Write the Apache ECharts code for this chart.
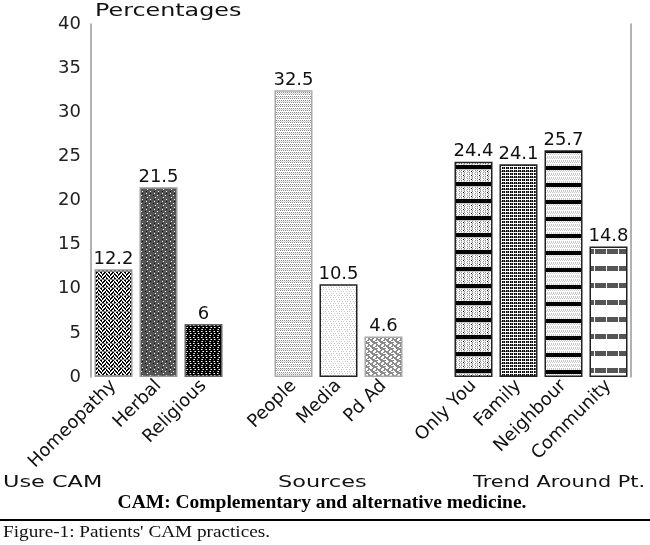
<!DOCTYPE html>
<html>
<head>
<meta charset="utf-8">
<script src="https://cdn.jsdelivr.net/npm/echarts@6/dist/echarts.min.js"></script>
<style>
    html, body { margin: 0; padding: 0; background: #fff; }
    #cam_echart { width: 650px; height: 545px; }
</style>
</head>
<body>
<div id="cam_echart"></div>
<script>
// data
var useCam = ['Homeopathy', 'Herbal', 'Religious'];
var useCamValues = [12.2, 21.5, 6];
var sources = ['People', 'Media', 'Pd Ad'];
var sourcesValues = [32.5, 10.5, 4.6];
var trend = ['Only You', 'Family', 'Neighbour', 'Community'];
var trendValues = [24.4, 24.1, 25.7, 14.8];
var groupNames = ['Use CAM', 'Sources', 'Trend Around Pt.'];
var yMin = 0, yMax = 40, yStep = 5;

// small pixel tiles used as bar fills
var pal = { '.': '#ffffff', '#': '#000000', 'g': '#8c8c8c', 'd': '#555555', 'l': '#c8c8c8' };
function tile(rows) {
    var c = document.createElement('canvas');
    c.width = rows[0].length;
    c.height = rows.length;
    var ctx = c.getContext('2d');
    for (var y = 0; y < rows.length; y++) {
        for (var x = 0; x < rows[y].length; x++) {
            ctx.fillStyle = pal[rows[y][x]];
            ctx.fillRect(x, y, 1, 1);
        }
    }
    return { image: c, repeat: 'repeat' };
}
function striped(top, band, n) {
    var rows = [];
    for (var i = 0; i < n; i++) rows.push(top[i % top.length]);
    return rows.concat(band);
}

var fills = [
    tile(['##..##..', '#.#..#.#', '..##..##', '.#.##.#.', '##..##..', '#.#..#.#', '..##..##', 'gggggggg']),
    tile(['dddddddd', 'dd.ddd#d', 'dddddddd', 'd#ddd.dd', 'dddddddd', 'ddd.dddd', 'dddddddd', 'dd#ddd.d']),
    tile(['########', '#.g##g.#', '########', '##g.##.g', '########', '#g.##g##']),
    tile(['g.g.g.g.', '.l.l.l.l', 'g.g.g.g.', '........', '.g.g.g.g', 'l.l.l.l.', '.g.g.g.g', '........']),
    tile(['........', '.l.l..l.', '........', '..l..l.l', '........', 'l..l.l..']),
    tile(['gg..gggg', 'g....ggg', 'gg..gg..', 'ggggg...', 'g.ggg..g', '...gggg.']),
    tile(striped(['g..g.g..', '.l..l..#', 'g..g.g..', 'l.l..l.l'], ['########', '########', '########', '########', 'llllllll'], 12)),
    tile(['#.#d#.#d', '........', '#.#d#.#d', '#g#d#g#d', '........', '#.#d#.#d']),
    tile(striped(['.l.l.l.l', 'l.l.l.l.', '........', '.l.l.l.l'], ['########', '########', '########', '########'], 13)),
    tile(striped(['............'], ['dddddd.ddddd', 'dddddd.ddddd', 'dddddd.ddddd', 'dddddd.ddddd', 'dddddd.ddddd', '............'], 11))
];
var borders = ['#999', '#999', '#666', '#aaa', '#222', '#aaa', '#222', '#222', '#222', '#222'];

var categories = useCam.concat([''], sources, [''], trend);
var values = useCamValues.concat(['-'], sourcesValues, ['-'], trendValues);

var seriesData = [];
var k = 0;
for (var i = 0; i < values.length; i++) {
    if (values[i] === '-') {
        seriesData.push('-');
        continue;
    }
    seriesData.push({
        value: values[i],
        itemStyle: { color: fills[k], borderColor: borders[k], borderWidth: 1.5 }
    });
    k++;
}

function stretchedText(txt, x, y, font, sx) {
    return {
        type: 'text', x: x, y: y, scaleX: sx,
        style: { text: txt, x: 0, y: 0, fill: '#111', font: font, verticalAlign: 'middle' }
    };
}

var myChart = echarts.init(document.getElementById('cam_echart'));
var Option = {
    animation: false,
    backgroundColor: '#fff',
    grid: { left: 91, right: 19, top: 24, bottom: 168, containLabel: false },
    xAxis: {
        type: 'category',
        data: categories,
        axisLine: { show: false },
        axisTick: { show: false },
        axisLabel: {
            interval: 0, rotate: 45, margin: 6,
            fontFamily: 'DejaVu Sans', fontSize: 18, color: '#111'
        }
    },
    yAxis: [{
        type: 'value',
        min: yMin, max: yMax, interval: yStep,
        axisLine: { show: true, lineStyle: { color: '#999', width: 1.5 } },
        axisTick: { show: false },
        splitLine: { show: false },
        axisLabel: { margin: 10, fontFamily: 'DejaVu Sans', fontSize: 18, color: '#222' }
    }, {
        type: 'value', position: 'right',
        min: yMin, max: yMax, interval: yStep,
        axisLine: { show: true, lineStyle: { color: '#999', width: 1.5 } },
        axisTick: { show: false },
        splitLine: { show: false },
        axisLabel: { show: false }
    }],
    series: [{
        type: 'bar',
        barWidth: 38,
        data: seriesData,
        label: {
            show: true, position: 'top', distance: 1,
            fontFamily: 'DejaVu Sans', fontSize: 18, color: '#111'
        }
    }],
    graphic: [
        stretchedText('Percentages', 95, 12, '17px "DejaVu Sans"', 1.4),
        stretchedText(groupNames[0], 3, 483, '16px "DejaVu Sans"', 1.4),
        stretchedText(groupNames[1], 278, 483, '16px "DejaVu Sans"', 1.4),
        stretchedText(groupNames[2], 473, 483, '16px "DejaVu Sans"', 1.3),
        {
            type: 'text', x: 322, y: 503,
            style: {
                text: 'CAM: Complementary and alternative medicine.',
                font: 'bold 19.5px "Liberation Serif"', fill: '#000', align: 'center', verticalAlign: 'middle'
            }
        },
        { type: 'rect', shape: { x: 0, y: 519, width: 650, height: 2 }, style: { fill: '#000' } },
        stretchedText("Figure-1: Patients' CAM practices.", 3, 533, '17px "Liberation Serif"', 1.13)
    ]
};
myChart.setOption(Option);
</script>
</body>
</html>
